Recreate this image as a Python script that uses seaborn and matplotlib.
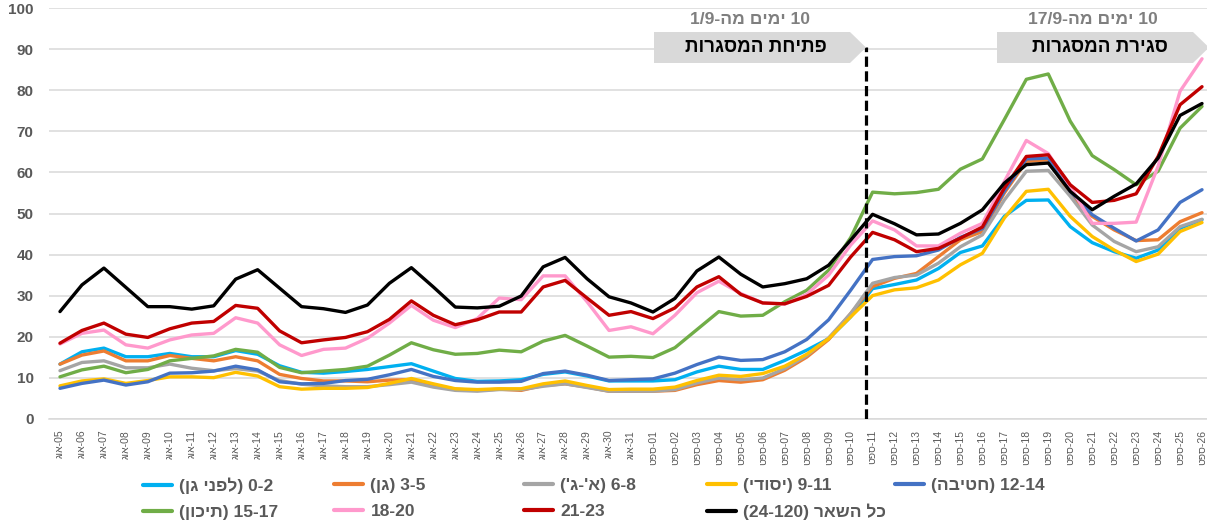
import numpy as np
import pandas as pd
import matplotlib
matplotlib.use("Agg")
import matplotlib.pyplot as plt
import seaborn as sns
from matplotlib.patches import Polygon
from matplotlib.lines import Line2D

# === DATOS ===
# Hebrew strings are written in visual (left-to-right) order, matplotlib has no bidi
dates = ([f"גוא-{d:02d}" for d in range(5, 32)] +
         [f"טפס-{d:02d}" for d in range(1, 27)])

age_0_2 = [13.3, 16.3, 17.2, 15.1, 15.1, 15.9, 15.1, 15.1, 16.6, 15.7, 12.9, 11.3, 11.1, 11.5, 12.0, 12.7,
           13.4, 11.6, 9.8, 9.1, 9.2, 9.5, 10.8, 11.4, 10.4, 9.2, 9.2,
           9.2, 9.5, 11.4, 12.8, 12.0, 12.0, 14.2, 16.7, 19.5, 24.8, 31.7,
           32.7, 33.8, 36.6, 40.5, 42.1, 49.3, 53.2, 53.3, 46.8, 42.9, 40.7, 39.1, 41.1, 46.4, 48.5]
age_3_5 = [13.3, 15.5, 16.5, 14.1, 14.1, 15.4, 14.7, 14.1, 15.1, 14.1, 10.8, 9.8, 9.2, 9.2, 9.0, 9.4,
           9.5, 8.1, 7.2, 6.9, 7.2, 6.9, 8.1, 8.5, 7.7, 6.7, 6.7,
           6.7, 6.9, 8.3, 9.3, 8.9, 9.5, 11.8, 15.0, 19.3, 25.6, 32.2,
           34.2, 35.4, 39.5, 43.6, 45.6, 55.0, 62.7, 63.1, 54.6, 49.3, 46.0, 43.4, 43.6, 48.0, 50.2]
age_6_8 = [11.7, 13.7, 14.1, 12.4, 12.4, 13.3, 12.3, 11.7, 12.2, 11.6, 9.3, 8.4, 8.0, 7.8, 7.8, 8.3,
           8.9, 7.7, 6.9, 6.7, 7.1, 7.1, 7.9, 8.5, 7.6, 6.7, 6.7,
           6.7, 7.1, 8.7, 9.9, 9.5, 9.9, 12.2, 15.4, 19.7, 25.6, 33.0,
           34.4, 35.0, 37.9, 41.9, 44.8, 53.3, 60.3, 60.5, 54.2, 47.2, 43.2, 40.7, 41.9, 46.8, 48.6]
age_9_11 = [8.0, 9.2, 9.7, 8.6, 9.3, 10.2, 10.2, 10.0, 11.3, 10.4, 7.8, 7.2, 7.4, 7.4, 7.6, 8.6,
            9.8, 8.5, 7.3, 7.1, 7.3, 7.3, 8.5, 9.2, 8.1, 7.1, 7.2,
            7.2, 7.7, 9.3, 10.6, 10.3, 11.0, 12.8, 15.7, 19.5, 24.8, 30.0,
            31.4, 31.9, 33.8, 37.5, 40.3, 48.9, 55.4, 55.9, 49.3, 44.4, 41.1, 38.3, 40.1, 45.6, 47.8]
age_12_14 = [7.4, 8.6, 9.4, 8.2, 9.0, 11.1, 11.2, 11.6, 12.8, 11.9, 9.0, 8.5, 8.6, 9.3, 9.6, 10.7,
             12.0, 10.3, 9.3, 8.9, 8.9, 9.1, 11.0, 11.6, 10.6, 9.3, 9.5,
             9.7, 11.1, 13.2, 15.0, 14.2, 14.4, 16.3, 19.3, 24.1, 31.3, 38.8,
             39.5, 39.7, 41.1, 44.2, 46.3, 55.4, 63.3, 63.5, 55.4, 49.7, 46.4, 43.3, 46.0, 52.7, 55.8]
age_15_17 = [10.2, 11.9, 12.8, 11.2, 12.0, 14.1, 14.7, 15.3, 16.9, 16.2, 12.5, 11.2, 11.6, 12.0, 12.8, 15.5,
             18.5, 16.8, 15.7, 15.9, 16.7, 16.3, 18.9, 20.3, 17.7, 15.0, 15.2,
             14.9, 17.3, 21.7, 26.1, 25.0, 25.2, 28.5, 31.3, 36.2, 44.1, 55.2,
             54.8, 55.1, 55.9, 60.8, 63.3, 72.9, 82.7, 84.0, 72.5, 64.1, 60.7, 57.0, 60.3, 70.8, 76.1]
age_18_20 = [18.2, 20.8, 21.6, 18.0, 17.2, 19.2, 20.4, 20.8, 24.6, 23.3, 18.0, 15.4, 16.9, 17.2, 19.6, 23.3,
             27.6, 24.0, 22.2, 24.4, 29.4, 29.0, 34.8, 34.8, 28.5, 21.5, 22.4,
             20.7, 25.2, 30.7, 33.5, 30.5, 28.2, 27.9, 30.3, 35.0, 42.3, 48.2,
             46.0, 42.1, 42.1, 45.2, 47.6, 57.8, 67.8, 64.6, 56.6, 47.6, 47.6, 47.9, 61.5, 79.8, 87.7]
age_21_23 = [18.4, 21.5, 23.3, 20.6, 19.8, 21.9, 23.3, 23.7, 27.6, 26.9, 21.4, 18.5, 19.2, 19.8, 21.2, 24.2,
             28.7, 25.2, 22.9, 24.1, 26.0, 26.0, 32.1, 33.7, 29.4, 25.2, 26.1,
             24.4, 27.0, 32.1, 34.6, 30.3, 28.2, 28.0, 29.8, 32.5, 39.4, 45.4,
             43.6, 40.7, 41.5, 44.0, 46.7, 56.2, 63.9, 64.3, 57.0, 52.7, 53.2, 54.8, 63.9, 76.5, 80.9]
age_rest = [26.1, 32.6, 36.7, 32.0, 27.3, 27.3, 26.7, 27.5, 34.0, 36.3, 31.8, 27.3, 26.8, 25.9, 27.7, 33.0,
            36.8, 32.1, 27.2, 27.0, 27.4, 29.9, 37.0, 39.3, 34.1, 29.7, 28.2,
            26.0, 29.3, 36.0, 39.4, 35.2, 32.1, 32.9, 34.1, 37.4, 43.5, 49.8,
            47.5, 44.8, 45.0, 47.6, 50.9, 57.4, 61.9, 62.3, 55.4, 50.9, 54.2, 57.2, 63.5, 73.9, 76.8]

labels = ["(ןג ינפל) 0-2", "(ןג) 3-5", "('ג-'א) 6-8", "(ידוסי) 9-11", "(הביטח) 12-14",
          "(ןוכית) 15-17", "18-20", "21-23", "(24-120) ראשה לכ"]
colors = ["#00B0F0", "#ED7D31", "#A5A5A5", "#FFC000", "#4472C4",
          "#70AD47", "#FF99CC", "#C00000", "#000000"]
values = [age_0_2, age_3_5, age_6_8, age_9_11, age_12_14,
          age_15_17, age_18_20, age_21_23, age_rest]

opening_text = ["1/9-המ םימי 10", "תורגסמה תחיתפ"]
closing_text = ["17/9-המ םימי 10", "תורגסמה תריגס"]

n = len(dates)
df = pd.DataFrame({
    "pos": np.tile(np.arange(n), len(labels)),
    "group": np.repeat(labels, n),
    "value": np.concatenate(values),
})

# === FIGURA ===
W, H = 1207, 524
FONT = ["Liberation Sans", "DejaVu Sans"]
sns.set_style("white")
plt.rcParams["font.family"] = FONT

def fx(x):
    return x / W

def fy(y):
    return 1 - y / H

fig = plt.figure(figsize=(W / 100, H / 100), dpi=100)
ax = fig.add_axes([fx(49), fy(418.7), 1164 / W, 410.4 / H])

sns.lineplot(data=df, x="pos", y="value", hue="group", hue_order=labels,
             palette=dict(zip(labels, colors)), linewidth=2.4, legend=False,
             estimator=None, sort=False, ax=ax)
for line in ax.lines:
    line.set_solid_joinstyle("round")

ax.set_xlim(-0.5, n - 0.5)
ax.set_ylim(0, 100)
ax.set_yticks(range(0, 101, 10))
ax.yaxis.grid(True, color="#D9D9D9", lw=1.1)
ax.set_axisbelow(True)
for s in ["top", "right", "left"]:
    ax.spines[s].set_visible(False)
ax.spines["bottom"].set_color("#D9D9D9")
ax.spines["bottom"].set_linewidth(1.1)

ax.set_xticks(range(n))
ax.set_xticklabels(dates, rotation=90, fontsize=7.5, color="#595959")
ax.set_xticks(np.arange(-0.5, n, 1), minor=True)
ax.tick_params(axis="x", which="major", length=0, pad=8)
ax.tick_params(axis="x", which="minor", length=5, color="#D9D9D9", width=1)
ax.tick_params(axis="y", length=0, pad=11)
for t in ax.get_yticklabels():
    t.set_fontsize(11)
    t.set_fontweight("bold")
    t.set_color("#595959")
ax.set_xlabel("")
ax.set_ylabel("")

# === LINEA DE APERTURA ===
x_open = dates.index("טפס-11") - 0.3
ax.axvline(x_open, ymin=0, ymax=0.905, color="black", lw=2.3,
           linestyle=(0, (3.2, 1.4)), zorder=5)

# === CAJAS DE ANOTACION ===
def pentagon(x0, x1, tip, y0, y1):
    ym = (y0 + y1) / 2
    pts = [(x0, y0), (x1, y0), (tip, ym), (x1, y1), (x0, y1)]
    fig.patches.append(Polygon([(fx(a), fy(b)) for a, b in pts], closed=True,
                               transform=fig.transFigure, facecolor="#D9D9D9",
                               edgecolor="none", zorder=3))

pentagon(654, 850, 866, 32, 63)
pentagon(997, 1193, 1209, 32, 63)
fig.text(fx(750), fy(20), opening_text[0], ha="center", va="center",
         fontsize=12.6, fontweight="bold", color="#7F7F7F")
fig.text(fx(756), fy(47.5), opening_text[1], ha="center", va="center",
         fontsize=13.5, fontweight="bold", color="black", zorder=4)
fig.text(fx(1093), fy(20), closing_text[0], ha="center", va="center",
         fontsize=12.6, fontweight="bold", color="#7F7F7F")
fig.text(fx(1100), fy(47.5), closing_text[1], ha="center", va="center",
         fontsize=13.5, fontweight="bold", color="black", zorder=4)

# === LEYENDA (una por columna, como en Excel) ===
col_x = [143, 334, 524, 707, 895]
columns = [[0, 5], [1, 6], [2, 7], [3, 8], [4]]
for cx, idxs in zip(col_x, columns):
    handles = [Line2D([], [], color=colors[i], lw=3) for i in idxs]
    leg = fig.legend(handles, [labels[i] for i in idxs], loc="upper left",
                     bbox_to_anchor=(fx(cx), fy(478)), frameon=False,
                     borderpad=0, borderaxespad=0, handlelength=1.65,
                     handletextpad=0.45, labelspacing=0.62,
                     prop={"size": 12.5, "weight": "bold", "family": FONT})
    for t in leg.get_texts():
        t.set_color("#595959")

fig.savefig("out.png", dpi=100)
